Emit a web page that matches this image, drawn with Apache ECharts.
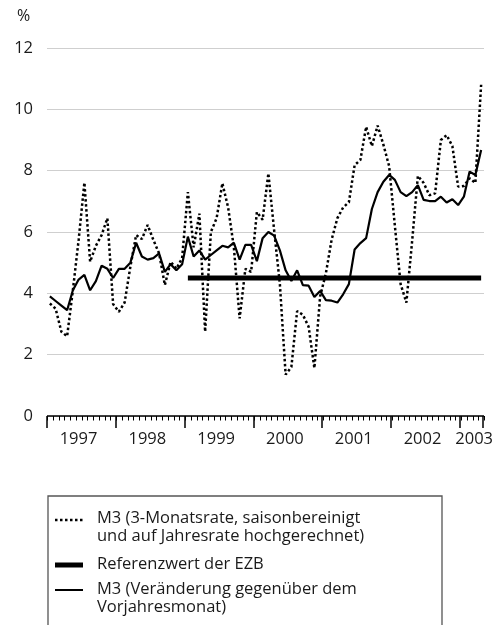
<!DOCTYPE html>
<html>
<head>
<meta charset="utf-8">
<script src="https://cdn.jsdelivr.net/npm/echarts@6/dist/echarts.min.js"></script>
<style>
  html, body { margin: 0; padding: 0; background: #fff; }
  #chart { width: 496px; height: 625px; }
</style>
</head>
<body>
<div id="chart"></div>
<script>
// months Jan 1997 .. Apr 2003
var months = [];
for (var yr = 1997; yr <= 2003; yr++) {
    for (var mo = 1; mo <= 12; mo++) {
        if (yr === 2003 && mo > 4) break;
        months.push(yr + '-' + (mo < 10 ? '0' + mo : mo));
    }
}

// M3, 3-Monatsrate (annualisiert)
var m3Quarterly = [
    3.67, 3.5, 2.75, 2.6, 4.1, 5.74, 7.61, 5.03, 5.55, 5.9, 6.45, 3.65,
    3.4, 3.7, 4.87, 5.9, 5.77, 6.23, 5.74, 5.3, 4.27, 5.03, 4.8, 5.15,
    7.3, 5.5, 6.6, 2.75, 6.0, 6.45, 7.59, 6.8, 5.5, 3.18, 4.8, 4.7,
    6.65, 6.4, 7.91, 6.06, 4.3, 1.35, 1.6, 3.42, 3.3, 2.91, 1.56, 3.9,
    4.65, 5.75, 6.45, 6.8, 6.97, 8.18, 8.35, 9.43, 8.8, 9.47, 8.85, 8.15,
    6.2, 4.3, 3.7, 5.7, 7.83, 7.6, 7.2, 7.26, 9.0, 9.16, 8.8, 7.48,
    7.5, 7.75, 7.6, 10.8
];

// M3, Veränderung gegenüber Vorjahresmonat
var m3Annual = [
    3.9, 3.75, 3.6, 3.45, 4.1, 4.45, 4.6, 4.1, 4.4, 4.9, 4.8, 4.5,
    4.8, 4.8, 5.0, 5.65, 5.2, 5.1, 5.15, 5.3, 4.7, 4.95, 4.75, 4.95,
    5.85, 5.2, 5.4, 5.1, 5.25, 5.4, 5.55, 5.5, 5.65, 5.1, 5.58, 5.58,
    5.05, 5.8, 6.0, 5.88, 5.4, 4.75, 4.4, 4.75, 4.27, 4.25, 3.88, 4.08,
    3.78, 3.76, 3.7, 3.97, 4.3, 5.43, 5.64, 5.8, 6.75, 7.3, 7.64, 7.86,
    7.7, 7.3, 7.17, 7.3, 7.53, 7.05, 7.01, 7.01, 7.15, 6.96, 7.07, 6.88,
    7.15, 7.97, 7.86, 8.67
];

// Referenzwert der EZB
var refLine = [['1999-01', 4.5], ['2003-04', 4.5]];

var yTicks = [0, 2, 4, 6, 8, 10, 12];

var legendTexts = [
    ['M3 (3-Monatsrate, saisonbereinigt', 'und auf Jahresrate hochgerechnet)'],
    ['Referenzwert der EZB'],
    ['M3 (Veränderung gegenüber dem', 'Vorjahresmonat)']
];

var font = '"Open Sans", sans-serif';
var chart = echarts.init(document.getElementById('chart'));

var gridBox = { left: 47, right: 12, top: 48, bottom: 209 };

var legendGraphics = [
    {
        type: 'rect',
        shape: { x: 48, y: 496, width: 394, height: 140 },
        style: { fill: 'none', stroke: '#555', lineWidth: 1.3 }
    },
    {
        type: 'line',
        shape: { x1: 55, y1: 520, x2: 83, y2: 520 },
        style: { stroke: '#000', lineWidth: 2.5, lineDash: [2.5, 2.5] }
    },
    {
        type: 'line',
        shape: { x1: 55, y1: 565, x2: 83, y2: 565 },
        style: { stroke: '#000', lineWidth: 5 }
    },
    {
        type: 'line',
        shape: { x1: 55, y1: 590, x2: 83, y2: 590 },
        style: { stroke: '#000', lineWidth: 2 }
    },
    {
        type: 'text',
        left: 97, top: 509,
        style: { text: legendTexts[0].join('\n'), fontFamily: font, fontSize: 16.5, lineHeight: 18, fill: '#1a1a1a' }
    },
    {
        type: 'text',
        left: 97, top: 555,
        style: { text: legendTexts[1].join('\n'), fontFamily: font, fontSize: 16.5, lineHeight: 18, fill: '#1a1a1a' }
    },
    {
        type: 'text',
        left: 97, top: 580,
        style: { text: legendTexts[2].join('\n'), fontFamily: font, fontSize: 16.5, lineHeight: 18, fill: '#1a1a1a' }
    }
];

var option = {
    animation: false,
    title: {
        text: '%',
        left: 12,
        top: 3,
        textStyle: { fontFamily: font, fontSize: 16, fontWeight: 'normal', color: '#1a1a1a' }
    },
    grid: [
        Object.assign({}, gridBox),
        Object.assign({}, gridBox)
    ],
    xAxis: [
        {
            // data axis
            type: 'category',
            gridIndex: 0,
            data: months,
            boundaryGap: true,
            axisLine: { show: false },
            axisTick: { show: false },
            axisLabel: { show: false },
            splitLine: { show: false }
        },
        {
            // year ticks + labels
            type: 'category',
            gridIndex: 1,
            data: months,
            boundaryGap: true,
            axisLine: { show: false },
            axisTick: {
                show: true,
                length: 12,
                interval: function (i) { return i % 12 === 0; },
                lineStyle: { color: '#000', width: 1.5 }
            },
            axisLabel: {
                interval: function (i) { return i % 12 === 5 || i === 74; },
                formatter: function (v) { return v.slice(0, 4); },
                margin: 15,
                fontFamily: font,
                fontSize: 16.5,
                color: '#1a1a1a'
            },
            splitLine: { show: false }
        }
    ],
    yAxis: [
        {
            type: 'value',
            gridIndex: 0,
            min: yTicks[0],
            max: yTicks[yTicks.length - 1],
            interval: 2,
            axisLine: { show: false },
            axisTick: { show: false },
            axisLabel: { margin: 14, fontFamily: font, fontSize: 16.5, color: '#1a1a1a' },
            splitLine: { lineStyle: { color: '#cfcfcf', width: 1.2 } }
        },
        {
            type: 'value',
            gridIndex: 1,
            min: yTicks[0],
            max: yTicks[yTicks.length - 1],
            show: false
        }
    ],
    series: [
        {
            name: legendTexts[0].join(' '),
            type: 'line',
            data: m3Quarterly,
            symbol: 'none',
            lineStyle: { color: '#000', width: 2.5, type: [2.5, 2.5] },
            z: 3
        },
        {
            name: legendTexts[1][0],
            type: 'line',
            data: refLine,
            symbol: 'none',
            lineStyle: { color: '#000', width: 5, cap: 'butt' },
            z: 2
        },
        {
            name: legendTexts[2].join(' '),
            type: 'line',
            data: m3Annual,
            symbol: 'none',
            lineStyle: { color: '#000', width: 2.2 },
            z: 4
        }
    ],
    graphic: legendGraphics
};

chart.setOption(option);

// x axis line and month ticks, placed with the chart's own scales
function addAxisLine() {
    var x0 = chart.convertToPixel({ xAxisIndex: 0 }, 0);
    var x1 = chart.convertToPixel({ xAxisIndex: 0 }, 1);
    var y0 = chart.convertToPixel({ yAxisIndex: 0 }, yTicks[0]);
    if (isNaN(x0) || isNaN(x1) || isNaN(y0)) return;
    var band = x1 - x0;
    var yy = Math.round(y0);
    var els = [];
    var start = x0 - band / 2;
    var end = start + band * months.length;
    els.push({
        type: 'line', silent: true, z: 5,
        shape: { x1: start, y1: yy, x2: end, y2: yy },
        style: { stroke: '#000', lineWidth: 1.5 }
    });
    for (var i = 0; i <= months.length; i++) {
        var x = Math.round(start + band * i) + 0.5;
        els.push({
            type: 'line', silent: true, z: 5,
            shape: { x1: x, y1: yy, x2: x, y2: yy + 4.5 },
            style: { stroke: '#000', lineWidth: 1 }
        });
    }
    option.graphic = legendGraphics.concat(els);
    chart.setOption(option, true);
}
addAxisLine();

window.addEventListener('resize', function () {
    chart.resize();
});
</script>
</body>
</html>
